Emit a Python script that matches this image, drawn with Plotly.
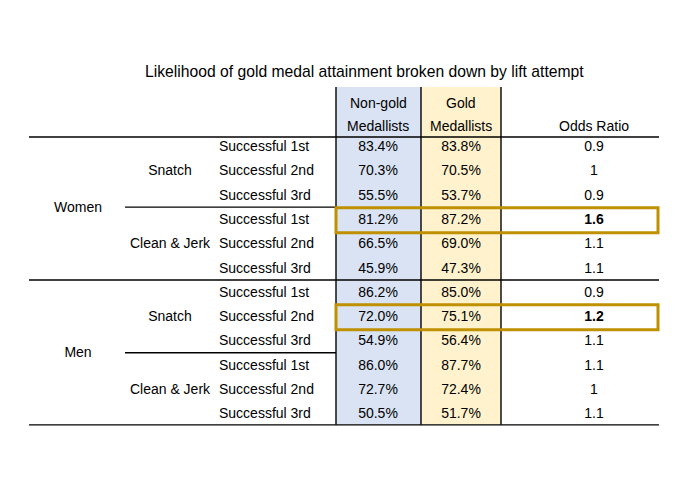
import plotly.graph_objects as go

# table content
title = "Likelihood of gold medal attainment broken down by lift attempt"
sexes = ["Women", "Men"]
lifts = ["Snatch", "Clean & Jerk"]
attempts = ["Successful 1st", "Successful 2nd", "Successful 3rd"]
col_headers = [["Non-gold", "Medallists"], ["Gold", "Medallists"], ["", "Odds Ratio"]]

non_gold = ["83.4%", "70.3%", "55.5%", "81.2%", "66.5%", "45.9%",
            "86.2%", "72.0%", "54.9%", "86.0%", "72.7%", "50.5%"]
gold = ["83.8%", "70.5%", "53.7%", "87.2%", "69.0%", "47.3%",
        "85.0%", "75.1%", "56.4%", "87.7%", "72.4%", "51.7%"]
odds = ["0.9", "1", "0.9", "1.6", "1.1", "1.1",
        "0.9", "1.2", "1.1", "1.1", "1", "1.1"]
highlight_rows = [3, 7]

FONT = "Liberation Sans Narrow, Arial Narrow, Liberation Sans, Arial"
BLUE = "#DAE3F3"
YELLOW = "#FFF2CC"
GOLDLINE = "#BF9000"

# column x positions (px) and column edges
x_sex, x_lift, x_att = 78, 170, 219
x_ng, x_g, x_or = 378, 461, 594
edges = [336, 421, 501]
left, right = 29, 659

rows = list(range(len(non_gold)))
att_labels = [attempts[i % 3] for i in rows]

fig = go.Figure()

# shaded columns
top, bottom = -2.5, 11.42
fig.add_shape(type="rect", x0=edges[0], x1=edges[1], y0=top, y1=bottom,
              fillcolor=BLUE, line_width=0, layer="below")
fig.add_shape(type="rect", x0=edges[1], x1=edges[2], y0=top, y1=bottom,
              fillcolor=YELLOW, line_width=0, layer="below")
for xe in edges:
    fig.add_shape(type="line", x0=xe, x1=xe, y0=top, y1=bottom,
                  line=dict(color="black", width=1.4))

# horizontal rules
for yl in [-0.44, 5.45, bottom]:
    fig.add_shape(type="line", x0=left, x1=right, y0=yl, y1=yl,
                  line=dict(color="black", width=1.4))
for yl in [2.45, 8.45]:
    fig.add_shape(type="line", x0=125, x1=edges[0], y0=yl, y1=yl,
                  line=dict(color="black", width=1.4))

# highlighted rows
for r in highlight_rows:
    fig.add_shape(type="rect", x0=edges[0], x1=right - 1, y0=r - 0.53, y1=r + 0.5,
                  line=dict(color=GOLDLINE, width=3), fillcolor="rgba(0,0,0,0)")

tf = dict(family=FONT, size=14, color="black")

fig.add_trace(go.Scatter(x=[x_att] * len(rows), y=rows, text=att_labels, mode="text",
                         textposition="middle right", textfont=tf, hoverinfo="skip"))
fig.add_trace(go.Scatter(x=[x_ng] * len(rows), y=rows, text=non_gold, mode="text",
                         textposition="middle center", textfont=tf, hoverinfo="skip"))
fig.add_trace(go.Scatter(x=[x_g] * len(rows), y=rows, text=gold, mode="text",
                         textposition="middle center", textfont=tf, hoverinfo="skip"))
odds_text = ["<b>%s</b>" % v if i in highlight_rows else v for i, v in enumerate(odds)]
fig.add_trace(go.Scatter(x=[x_or] * len(rows), y=rows, text=odds_text, mode="text",
                         textposition="middle center", textfont=tf, hoverinfo="skip"))

# group labels
fig.add_trace(go.Scatter(x=[x_lift] * 4, y=[1, 4, 7, 10], text=lifts * 2, mode="text",
                         textposition="middle center", textfont=tf, hoverinfo="skip"))
fig.add_trace(go.Scatter(x=[x_sex] * 2, y=[2.5, 8.5], text=sexes, mode="text",
                         textposition="middle center", textfont=tf, hoverinfo="skip"))

# column headers
for xc, (h1, h2) in zip([x_ng, x_g, x_or], col_headers):
    fig.add_annotation(x=xc, y=-1.85, text=h1, showarrow=False, font=tf)
    fig.add_annotation(x=xc, y=-0.9, text=h2, showarrow=False, font=tf)

fig.add_annotation(x=364, y=-3.13, text=title, showarrow=False,
                   font=dict(family="Liberation Sans, Arial", size=15.7, color="black"))

# the page body has an 8px margin, so the axes are shifted to keep pixel positions
fig.update_layout(
    width=680, height=481,
    margin=dict(l=0, r=0, t=0, b=0),
    paper_bgcolor="white", plot_bgcolor="white",
    showlegend=False,
    xaxis=dict(range=[8, 688], visible=False, fixedrange=True),
    yaxis=dict(range=[14.063, -5.756], visible=False, fixedrange=True),
)

fig.write_html("out.html")
